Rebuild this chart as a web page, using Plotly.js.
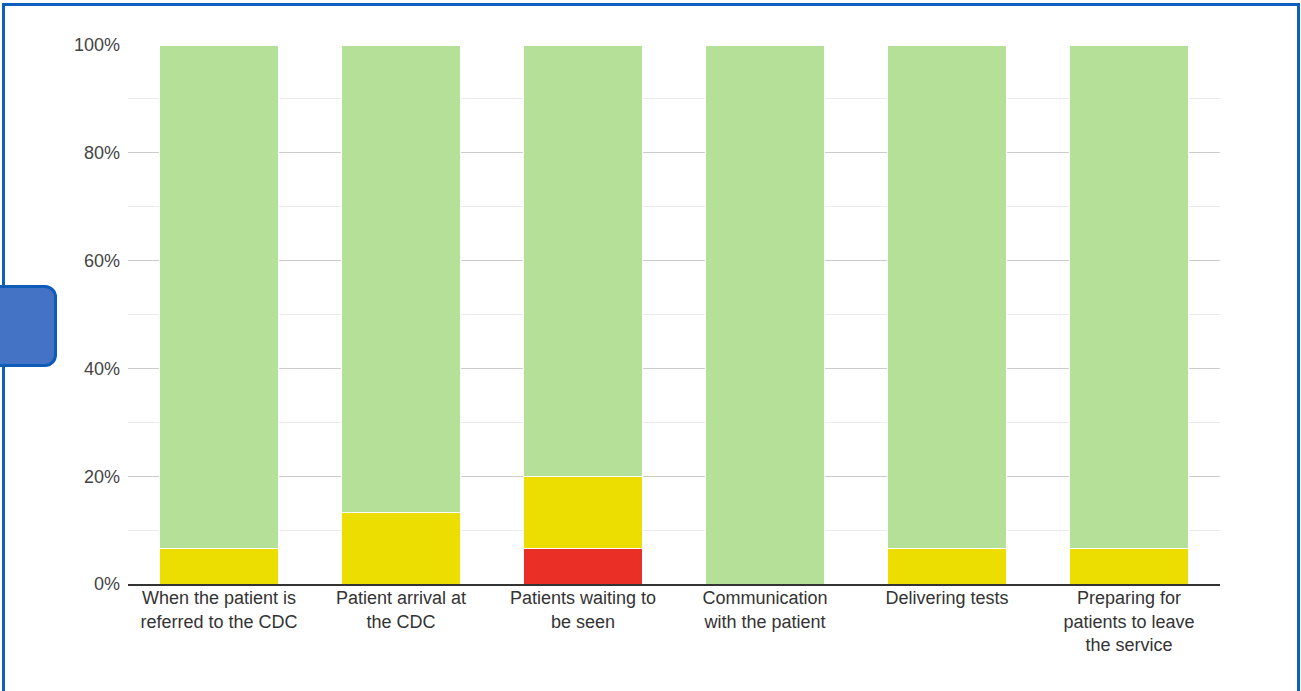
<!DOCTYPE html>
<html>
<head>
<meta charset="utf-8">
<script src="https://cdn.plot.ly/plotly-3.0.1.min.js"></script>
<style>
  html, body { margin: 0; padding: 0; background: #fff; }
  #wrap { position: relative; width: 1301px; height: 691px; overflow: hidden; }
  #chart { position: absolute; left: 0; top: 0; width: 1301px; height: 691px; }
  .frame { position: absolute; left: 2px; top: 3px; width: 1298px; height: 692px;
           box-sizing: border-box; border: 3.5px solid #0c5fbd; pointer-events: none; }
  .tab { position: absolute; left: -20px; top: 285px; width: 77px; height: 82px;
         box-sizing: border-box; background: #4472c4; border: 3px solid #0c5cb8;
         border-radius: 12px; pointer-events: none; }
</style>
</head>
<body>
<div id="wrap">
  <div id="chart"></div>
  <div class="frame"></div>
  <div class="tab"></div>
</div>
<script>
// Stages of the patient journey
const categories = [
  "When the patient is referred to the CDC",
  "Patient arrival at the CDC",
  "Patients waiting to be seen",
  "Communication with the patient",
  "Delivering tests",
  "Preparing for patients to leave the service"
];
const tickLabels = [
  "When the patient is<br>referred to the CDC",
  "Patient arrival at<br>the CDC",
  "Patients waiting to<br>be seen",
  "Communication<br>with the patient",
  "Delivering tests",
  "Preparing for<br>patients to leave<br>the service"
];
// Share of responses per rating (percent)
const redValues    = [0, 0, 6.67, 0, 0, 0];
const yellowValues = [6.67, 13.33, 13.33, 0, 6.67, 6.67];
const greenValues  = [93.33, 86.67, 80, 100, 93.33, 93.33];
const yTicks = [0, 20, 40, 60, 80, 100];
const yTickLabels = ["0%", "20%", "40%", "60%", "80%", "100%"];

function series(vals, color, name) {
  return {
    type: 'bar', x: categories, y: vals, name: name,
    marker: { color: color, line: { color: '#ffffff', width: 1 } },
    hoverinfo: 'none', showlegend: false
  };
}

const data = [
  series(redValues, '#ea3026', 'Red'),
  series(yellowValues, '#ebde00', 'Amber'),
  series(greenValues, '#b5e097', 'Green')
];

const layout = {
  width: 1301, height: 691,
  margin: { l: 128, r: 81, t: 45, b: 107 },
  barmode: 'stack',
  bargap: 0.35,
  paper_bgcolor: '#ffffff', plot_bgcolor: '#ffffff',
  font: { family: 'Liberation Sans, Arial, sans-serif', size: 18, color: '#333' },
  xaxis: {
    tickmode: 'array', tickvals: categories, ticktext: tickLabels,
    showgrid: false, showline: true, linecolor: '#333', linewidth: 1.5,
    ticks: '', ticklabelstandoff: -3,
    tickfont: { size: 18, color: '#333' }, fixedrange: true
  },
  yaxis: {
    range: [0, 100], tickmode: 'array', tickvals: yTicks, ticktext: yTickLabels,
    showgrid: true, gridcolor: '#cccccc', gridwidth: 1,
    minor: { dtick: 10, showgrid: true, gridcolor: '#ebebeb', gridwidth: 1 },
    zeroline: false, ticks: '', ticklabelstandoff: 7,
    tickfont: { size: 18, color: '#444' }, fixedrange: true
  }
};

Plotly.newPlot('chart', data, layout, { displayModeBar: false, staticPlot: true });
</script>
</body>
</html>
